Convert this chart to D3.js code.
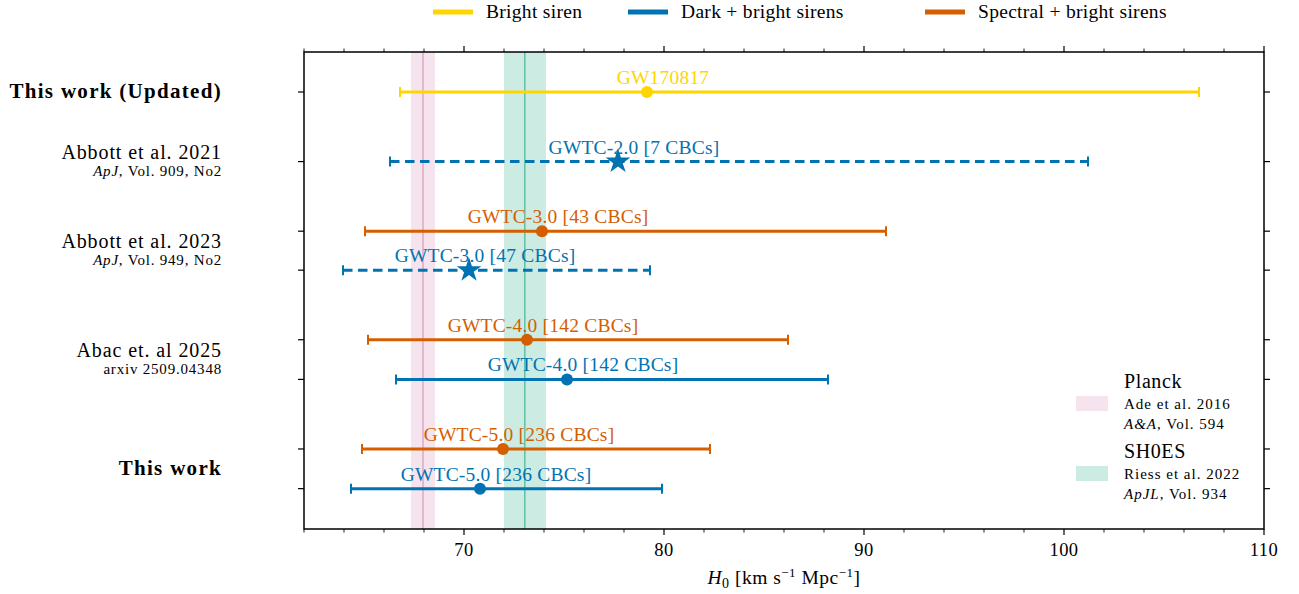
<!DOCTYPE html>
<html>
<head>
<meta charset="utf-8">
<script src="https://cdn.jsdelivr.net/npm/d3@7"></script>
<style>
  body { margin: 0; background: #fff; }
  svg text { font-family: "Liberation Serif", "DejaVu Serif", serif; }
</style>
</head>
<body>
<div id="chart"></div>
<script>
// measurement rows (top to bottom)
const labels   = ["GW170817", "GWTC-2.0 [7 CBCs]", "GWTC-3.0 [43 CBCs]", "GWTC-3.0 [47 CBCs]",
                  "GWTC-4.0 [142 CBCs]", "GWTC-4.0 [142 CBCs]", "GWTC-5.0 [236 CBCs]", "GWTC-5.0 [236 CBCs]"];
const kinds    = ["bright", "dark", "spectral", "dark", "spectral", "dark", "spectral", "dark"];
const centers  = [79.15, 77.7, 73.9, 70.25, 73.15, 75.15, 71.95, 70.8];
const lows     = [66.8, 66.3, 65.05, 63.95, 65.2, 66.6, 64.9, 64.35];
const highs    = [106.75, 101.2, 91.1, 79.3, 86.2, 88.2, 82.3, 79.9];
const dashed   = [false, true, false, true, false, false, false, false];
const markers  = ["circle", "star", "circle", "star", "circle", "circle", "circle", "circle"];
const rowPos   = [0, 1, 2, 2.56, 3.56, 4.13, 5.13, 5.7];

// group labels on the y axis
const groupNames = ["This work (Updated)", "Abbott et al. 2021", "Abbott et al. 2023", "Abac et. al 2025", "This work"];
const groupSubs  = ["", "<i>ApJ</i>, Vol. 909, No2", "<i>ApJ</i>, Vol. 949, No2", "arxiv 2509.04348", ""];
const groupPos   = [0, 1, 2.28, 3.845, 5.415];
const groupBold  = [true, false, false, false, true];

// reference bands
const planck = { mid: 67.95, lo: 67.35, hi: 68.55 };
const shoes  = { mid: 73.04, lo: 72.0, hi: 74.1 };

const xTicks = [70, 80, 90, 100, 110];

const colors = { bright: "#FFD500", dark: "#0173B2", spectral: "#D55E00" };
const legendNames = { bright: "Bright siren", dark: "Dark + bright sirens", spectral: "Spectral + bright sirens" };

const W = 1299, H = 594;
const margin = { top: 52, right: 35, bottom: 65, left: 304 };
const iw = W - margin.left - margin.right;
const ih = H - margin.top - margin.bottom;

const svg = d3.select("#chart").append("svg").attr("width", W).attr("height", H);
const g = svg.append("g").attr("transform", `translate(${margin.left},${margin.top})`);

const x = d3.scaleLinear().domain([62, 110]).range([0, iw]);
const y = d3.scaleLinear().domain([-0.575, 6.28]).range([0, ih]);

// bands
function band(b, col) {
  g.append("rect").attr("x", x(b.lo)).attr("y", 0)
    .attr("width", x(b.hi) - x(b.lo)).attr("height", ih)
    .attr("fill", col).attr("opacity", 0.2);
  g.append("line").attr("x1", x(b.mid)).attr("x2", x(b.mid))
    .attr("y1", 0).attr("y2", ih).attr("stroke", col).attr("stroke-opacity", 0.55).attr("stroke-width", 1.5);
}
band(planck, "#CC79A7");
band(shoes, "#009E73");

// error bars
const rows = centers.map((c, i) => ({ c, lo: lows[i], hi: highs[i], kind: kinds[i], label: labels[i],
  dashed: dashed[i], marker: markers[i], pos: rowPos[i] }));

const rg = g.selectAll(".row").data(rows).enter().append("g").attr("class", "row")
  .attr("transform", d => `translate(0,${y(d.pos)})`);

rg.append("line").attr("x1", d => x(d.lo)).attr("x2", d => x(d.hi))
  .attr("stroke", d => colors[d.kind]).attr("stroke-width", 3)
  .attr("stroke-dasharray", d => d.dashed ? "9.5,5.5" : null);

rg.each(function (d) {
  const s = d3.select(this);
  [d.lo, d.hi].forEach(v => s.append("line").attr("x1", x(v)).attr("x2", x(v))
    .attr("y1", -5).attr("y2", 5).attr("stroke", colors[d.kind]).attr("stroke-width", 2));
  if (d.marker === "circle") {
    s.append("circle").attr("cx", x(d.c)).attr("r", 6).attr("fill", colors[d.kind]);
  } else {
    s.append("path").attr("d", d3.symbol(d3.symbolStar, 190)())
      .attr("transform", `translate(${x(d.c)},0)`).attr("fill", colors[d.kind]);
  }
  s.append("text").attr("x", x(d.c) + 16).attr("y", -8).attr("text-anchor", "middle")
    .attr("font-size", 19.5).attr("letter-spacing", 0.2).attr("fill", colors[d.kind]).text(d.label);
});

// frame
g.append("rect").attr("width", iw).attr("height", ih).attr("fill", "none")
  .attr("stroke", "#000").attr("stroke-width", 1.5);

// x axis ticks (bottom and top)
const minor = d3.range(62, 111, 2).filter(v => v % 10 !== 0);
const bx = g.append("g").attr("transform", `translate(0,${ih})`);
bx.selectAll(".maj").data(xTicks).enter().append("line")
  .attr("x1", d => x(d)).attr("x2", d => x(d)).attr("y1", 0).attr("y2", 6)
  .attr("stroke", "#000").attr("stroke-width", 1.2);
bx.selectAll(".min").data(minor).enter().append("line")
  .attr("x1", d => x(d)).attr("x2", d => x(d)).attr("y1", 0).attr("y2", 3.5)
  .attr("stroke", "#000").attr("stroke-width", 0.9);
bx.selectAll("text").data(xTicks).enter().append("text")
  .attr("x", d => x(d)).attr("y", 27).attr("text-anchor", "middle")
  .attr("font-size", 18.5).attr("letter-spacing", 0.4).text(d => d);

const tx = g.append("g");
tx.selectAll(".maj").data(xTicks).enter().append("line")
  .attr("x1", d => x(d)).attr("x2", d => x(d)).attr("y1", 0).attr("y2", -6)
  .attr("stroke", "#000").attr("stroke-width", 1.2);
tx.selectAll(".min").data(minor).enter().append("line")
  .attr("x1", d => x(d)).attr("x2", d => x(d)).attr("y1", 0).attr("y2", -3.5)
  .attr("stroke", "#000").attr("stroke-width", 0.9);

// y ticks on both sides
[0, iw].forEach((xx, k) => {
  g.selectAll(null).data(rowPos).enter().append("line")
    .attr("x1", xx).attr("x2", k === 0 ? xx - 6 : xx + 6)
    .attr("y1", d => y(d)).attr("y2", d => y(d))
    .attr("stroke", "#000").attr("stroke-width", 1.2);
});

// axis label
const xl = svg.append("text").attr("x", margin.left + iw / 2).attr("y", 584)
  .attr("text-anchor", "middle").attr("font-size", 19.5).attr("letter-spacing", 0.5);
xl.append("tspan").attr("font-style", "italic").text("H");
xl.append("tspan").attr("font-size", 14).attr("dy", 4).text("0");
xl.append("tspan").attr("dy", -4).text("  [km s");
xl.append("tspan").attr("font-size", 13).attr("dy", -7).text("−1");
xl.append("tspan").attr("dy", 7).text(" Mpc");
xl.append("tspan").attr("font-size", 13).attr("dy", -7).text("−1");
xl.append("tspan").attr("dy", 7).text("]");

// group labels
groupNames.forEach((name, i) => {
  const yy = margin.top + y(groupPos[i]);
  const hasSub = groupSubs[i] !== "";
  svg.append("text").attr("x", 222).attr("y", hasSub ? yy - 3 : yy + 6)
    .attr("text-anchor", "end")
    .attr("font-size", groupBold[i] ? 21 : 20)
    .attr("letter-spacing", groupBold[i] ? 1.3 : 0.9)
    .attr("font-weight", groupBold[i] ? "bold" : "normal").text(name);
  if (hasSub) {
    const t = svg.append("text").attr("x", 222).attr("y", yy + 14)
      .attr("text-anchor", "end").attr("font-size", 15).attr("letter-spacing", 0.8);
    const m = groupSubs[i].match(/^<i>(.*?)<\/i>(.*)$/);
    if (m) {
      t.append("tspan").attr("font-style", "italic").text(m[1]);
      t.append("tspan").text(m[2]);
    } else t.text(groupSubs[i]);
  }
});

// top legend
const legendX = [433, 628, 925];
["bright", "dark", "spectral"].forEach((k, i) => {
  svg.append("line").attr("x1", legendX[i]).attr("x2", legendX[i] + 40)
    .attr("y1", 12).attr("y2", 12).attr("stroke", colors[k]).attr("stroke-width", 5);
  svg.append("text").attr("x", legendX[i] + 53).attr("y", 18).attr("font-size", 19.5)
    .attr("letter-spacing", 0.3).text(legendNames[k]);
});

// right legend for bands
const rl = [
  { col: "#CC79A7", title: "Planck", l1: [["", "Ade et al. 2016"]], l2: [["i", "A&A"], ["", ", Vol. 594"]], y0: 382 },
  { col: "#009E73", title: "SH0ES", l1: [["", "Riess et al. 2022"]], l2: [["i", "ApJL"], ["", ", Vol. 934"]], y0: 452 }
];
rl.forEach(r => {
  svg.append("rect").attr("x", 1076).attr("y", r.y0 + 14).attr("width", 32).attr("height", 15)
    .attr("fill", r.col).attr("opacity", 0.2);
  svg.append("text").attr("x", 1124).attr("y", r.y0 + 6).attr("font-size", 20)
    .attr("letter-spacing", 0.6).text(r.title);
  [r.l1, r.l2].forEach((parts, j) => {
    const t = svg.append("text").attr("x", 1124).attr("y", r.y0 + 27 + j * 20)
      .attr("font-size", 15).attr("letter-spacing", 1.0);
    parts.forEach(p => t.append("tspan").attr("font-style", p[0] === "i" ? "italic" : "normal").text(p[1]));
  });
});
</script>
</body>
</html>
